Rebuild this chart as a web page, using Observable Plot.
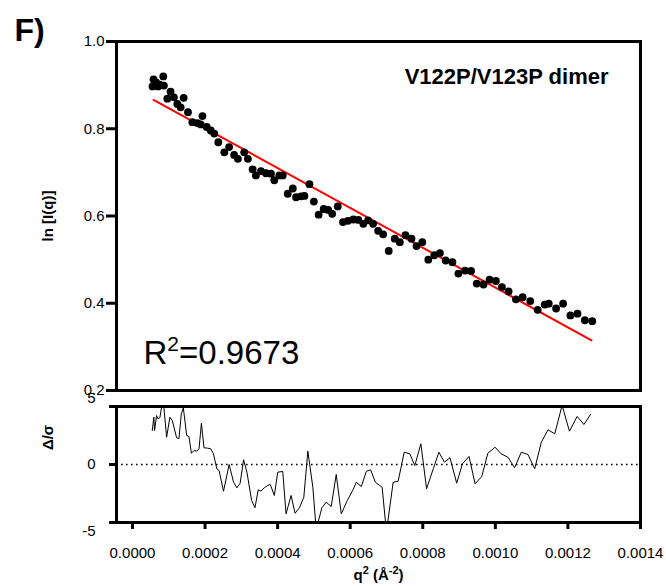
<!DOCTYPE html>
<html>
<head>
<meta charset="utf-8">
<script src="https://cdn.jsdelivr.net/npm/d3@7"></script>
<script src="https://cdn.jsdelivr.net/npm/@observablehq/plot@0.6"></script>
<style>
  html, body { margin: 0; padding: 0; background: white; }
  #wrap { position: relative; width: 666px; height: 586px; overflow: hidden; }
  #top, #bottom { position: absolute; left: 0; }
  #top { top: 0; }
  #bottom { top: 396px; }
  svg { overflow: visible; }
</style>
</head>
<body>
<div id="wrap"><div id="top"></div><div id="bottom"></div></div>
<script>
// ---- data (q² in Å⁻²) ----
const topQ2 = [0.553e-4, 0.581e-4, 0.650e-4, 0.705e-4, 0.747e-4, 0.849e-4, 0.866e-4, 0.960e-4, 1.051e-4, 1.142e-4,
  1.237e-4, 1.328e-4, 1.411e-4, 1.530e-4, 1.651e-4, 1.790e-4, 1.881e-4, 1.928e-4, 2.047e-4, 2.158e-4,
  2.254e-4, 2.365e-4, 2.531e-4, 2.664e-4, 2.802e-4, 2.905e-4, 3.079e-4, 3.181e-4, 3.311e-4, 3.402e-4,
  3.541e-4, 3.679e-4, 3.817e-4, 3.909e-4, 4.047e-4, 4.141e-4, 4.279e-4, 4.418e-4, 4.509e-4, 4.647e-4,
  4.739e-4, 4.877e-4, 4.999e-4, 5.131e-4, 5.270e-4, 5.394e-4, 5.505e-4, 5.657e-4, 5.801e-4, 5.939e-4,
  6.086e-4, 6.224e-4, 6.362e-4, 6.492e-4, 6.631e-4, 6.769e-4, 6.907e-4, 7.062e-4, 7.228e-4, 7.367e-4,
  7.524e-4, 7.690e-4, 7.828e-4, 7.986e-4, 8.152e-4, 8.318e-4, 8.473e-4, 8.631e-4, 8.816e-4, 8.982e-4,
  9.165e-4, 9.331e-4, 9.488e-4, 9.674e-4, 9.840e-4, 10.014e-4, 10.180e-4, 10.365e-4, 10.567e-4, 10.752e-4,
  10.963e-4, 11.167e-4, 11.361e-4, 11.472e-4, 11.674e-4, 11.867e-4, 12.069e-4, 12.263e-4, 12.467e-4, 12.669e-4];
const lnI = [0.897, 0.913, 0.906, 0.897, 0.901, 0.920, 0.899, 0.869, 0.885, 0.872,
  0.857, 0.849, 0.871, 0.838, 0.815, 0.813, 0.810, 0.829, 0.804, 0.796,
  0.789, 0.769, 0.746, 0.758, 0.740, 0.731, 0.746, 0.731, 0.707, 0.693,
  0.703, 0.698, 0.697, 0.682, 0.693, 0.693, 0.651, 0.663, 0.643, 0.645,
  0.646, 0.673, 0.633, 0.603, 0.616, 0.614, 0.605, 0.622, 0.586, 0.589,
  0.592, 0.591, 0.582, 0.590, 0.582, 0.566, 0.558, 0.520, 0.548, 0.540,
  0.556, 0.548, 0.531, 0.540, 0.500, 0.510, 0.515, 0.498, 0.494, 0.468,
  0.475, 0.474, 0.445, 0.443, 0.454, 0.451, 0.437, 0.427, 0.409, 0.414,
  0.405, 0.385, 0.397, 0.399, 0.388, 0.399, 0.372, 0.376, 0.361, 0.359];
const fitQ2 = [0.581e-4, 12.65e-4];
const fitLnI = [0.866, 0.315];

const resQ2 = [0.545e-4, 0.589e-4, 0.609e-4, 0.664e-4, 0.700e-4, 0.755e-4, 0.822e-4, 0.866e-4, 0.941e-4, 1.032e-4,
  1.098e-4, 1.217e-4, 1.281e-4, 1.347e-4, 1.402e-4, 1.494e-4, 1.557e-4, 1.624e-4, 1.696e-4, 1.770e-4,
  1.834e-4, 1.900e-4, 1.972e-4, 2.066e-4, 2.158e-4, 2.232e-4, 2.324e-4, 2.387e-4, 2.509e-4, 2.664e-4,
  2.786e-4, 2.877e-4, 2.968e-4, 3.062e-4, 3.154e-4, 3.284e-4, 3.375e-4, 3.466e-4, 3.541e-4, 3.632e-4,
  3.726e-4, 3.798e-4, 3.909e-4, 4.003e-4, 4.141e-4, 4.232e-4, 4.371e-4, 4.481e-4, 4.600e-4, 4.722e-4,
  4.833e-4, 4.971e-4, 5.062e-4, 5.220e-4, 5.339e-4, 5.477e-4, 5.615e-4, 5.754e-4, 5.920e-4, 6.078e-4,
  6.169e-4, 6.307e-4, 6.446e-4, 6.564e-4, 6.694e-4, 6.813e-4, 6.880e-4, 6.999e-4, 7.184e-4, 7.322e-4,
  7.488e-4, 7.643e-4, 7.781e-4, 7.947e-4, 8.105e-4, 8.290e-4, 8.445e-4, 8.595e-4, 8.750e-4, 8.935e-4,
  9.093e-4, 9.275e-4, 9.441e-4, 9.627e-4, 9.793e-4, 9.994e-4, 10.160e-4, 10.346e-4, 10.531e-4, 10.714e-4,
  10.899e-4, 11.084e-4, 11.267e-4, 11.452e-4, 11.637e-4, 11.840e-4, 12.042e-4, 12.255e-4, 12.440e-4, 12.623e-4];
const resid = [2.93, 4.08, 2.93, 4.22, 3.94, 4.03, 5.3, 4.94, 2.35, 4.08,
  3.79, 2.30, 2.22, 4.37, 4.89, 2.50, 2.41, 0.97, 1.21, 1.15,
  1.35, 3.56, 1.44, 1.41, 1.35, 0.92, -0.37, -0.52, -2.30, 0.00,
  -1.53, -2.01, -1.61, 0.41, -0.66, -3.10, -3.73, -2.18, -2.30, -2.01,
  -1.81, -1.72, -2.67, -0.66, -0.60, -4.25, -2.67, -4.20, -3.73, -2.82,
  1.15, -1.96, -5.6, -3.73, -3.25, -3.62, -0.86, -4.25, -3.10, -2.18,
  -1.53, -1.90, -0.58, -0.46, -1.53, -1.81, -1.96, -5.8, -1.53, -1.44,
  1.06, 0.92, -0.09, 1.78, -2.09, -0.37, 1.06, 0.20, 0.58, -1.61,
  0.06, 0.69, -1.66, -1.03, 0.97, 1.49, 0.92, 0.63, -0.28, 1.06,
  0.86, -0.37, 1.92, 2.99, 2.65, 5.1, 2.87, 4.14, 3.45, 4.31];

const xTicks = [0, 0.0002, 0.0004, 0.0006, 0.0008, 0.0010, 0.0012, 0.0014];
const yTopTicks = [0.2, 0.4, 0.6, 0.8, 1.0];
const yResTicks = [-5, 0, 5];
const yResLabels = ["-5", "0", "5"];

const panelLabel = "F)";
const sampleLabel = "V122P/V123P dimer";
const r2Label = "R2=0.9673";          // rendered with superscript 2
const r2Parts = [["R", false], ["2", true], ["=0.9673", false]];
const yTopTitle = "ln [I(q)]";
const yResTitle = "Δ/σ";
const xTitle = "q2 (Å-2)";             // rendered with superscripts
const xTitleParts = [["q", false], ["2", true], [" (Å", false], ["-2", true], [")", false]];

// ---- layout ----
const font = "'Liberation Sans', Arial, Helvetica, sans-serif";
const xDomain = [-0.000044, 0.0014];
const ML = 116, MR = 26;

const topPlot = Plot.plot({
  width: 666, height: 400,
  marginLeft: ML, marginRight: MR, marginTop: 41, marginBottom: 10,
  style: {fontFamily: font, fontSize: "15px", color: "black", background: "transparent", overflow: "visible"},
  x: {domain: xDomain, axis: null},
  y: {domain: [0.2, 1.0]},
  marks: [
    Plot.axisY({ticks: yTopTicks, tickSize: 10, tickPadding: 2, strokeWidth: 3, tickFormat: d => d.toFixed(1), label: null, fontSize: 15}),
    Plot.line(fitLnI, {x: fitQ2, y: fitLnI, stroke: "#ff0000", strokeWidth: 2}),
    Plot.dot(lnI, {x: topQ2, y: lnI, r: 3.9, fill: "black", stroke: "none"}),
    Plot.frame({stroke: "black", strokeWidth: 3}),
    Plot.text([sampleLabel], {frameAnchor: "top-right", textAnchor: "end", lineAnchor: "bottom", dx: -32, dy: 42, fontSize: 22, fontWeight: "bold", fill: "black"}),
    Plot.text([r2Label], {frameAnchor: "bottom-left", textAnchor: "start", lineAnchor: "bottom", dx: 27, dy: -27, fontSize: 33, fill: "black"}),
    Plot.text([panelLabel], {frameAnchor: "top-left", textAnchor: "start", lineAnchor: "bottom", dx: -102, dy: -1, fontSize: 32, fontWeight: "bold", fill: "black"}),
    Plot.text([yTopTitle], {frameAnchor: "left", textAnchor: "middle", lineAnchor: "middle", rotate: -90, dx: -68, dy: 0, fontSize: 15, fontWeight: "bold", fill: "black"})
  ]
});
document.getElementById("top").appendChild(topPlot);

const bottomPlot = Plot.plot({
  width: 666, height: 190,
  marginLeft: ML, marginRight: MR, marginTop: 10, marginBottom: 64,
  style: {fontFamily: font, fontSize: "15px", color: "black", background: "transparent", overflow: "visible"},
  x: {domain: xDomain},
  y: {domain: [-5, 5]},
  marks: [
    Plot.ruleY([0], {stroke: "black", strokeWidth: 1.6, strokeDasharray: "1.6,3.4"}),
    Plot.line(resid, {x: resQ2, y: resid, stroke: "black", strokeWidth: 1, clip: true}),
    Plot.frame({stroke: "black", strokeWidth: 3}),
    Plot.axisY({ticks: yResTicks, tickSize: 7, strokeWidth: 3, tickFormat: () => "", label: null}),
    Plot.text([yResLabels[0]], {y: yResTicks[0], frameAnchor: "left", textAnchor: "end", lineAnchor: "middle", dx: -21, dy: 9, fontSize: 15, fill: "black"}),
    Plot.text([yResLabels[1]], {y: yResTicks[1], frameAnchor: "left", textAnchor: "end", lineAnchor: "middle", dx: -21, dy: 0, fontSize: 15, fill: "black"}),
    Plot.text([yResLabels[2]], {y: yResTicks[2], frameAnchor: "left", textAnchor: "end", lineAnchor: "middle", dx: -21, dy: -8, fontSize: 15, fill: "black"}),
    Plot.axisX({ticks: xTicks, tickSize: 7, tickPadding: 18, strokeWidth: 3, tickFormat: d3.format(".4f"), label: null, fontSize: 15}),
    Plot.text([xTitle], {frameAnchor: "bottom", textAnchor: "middle", lineAnchor: "bottom", dy: 57, fontSize: 15, fontWeight: "bold", fill: "black"}),
    Plot.text([yResTitle], {frameAnchor: "left", textAnchor: "middle", lineAnchor: "middle", rotate: -90, dx: -68, dy: -27, fontSize: 15, fontWeight: "bold", fill: "black"})
  ]
});
document.getElementById("bottom").appendChild(bottomPlot);

// superscripts via tspans
function superscript(svg, plain, parts, supSize, rise) {
  d3.select(svg).selectAll("text").filter(function() { return this.textContent === plain; }).each(function() {
    const t = d3.select(this);
    t.text(null);
    let raised = false;
    for (const [s, sup] of parts) {
      const ts = t.append("tspan").text(s);
      if (sup && !raised) { ts.attr("dy", -rise).attr("font-size", supSize); raised = true; }
      else if (sup) { ts.attr("font-size", supSize); }
      else if (raised) { ts.attr("dy", rise); raised = false; }
    }
  });
}
superscript(topPlot, r2Label, r2Parts, 21, 13);
superscript(bottomPlot, xTitle, xTitleParts, 11, 6);
</script>
</body>
</html>
